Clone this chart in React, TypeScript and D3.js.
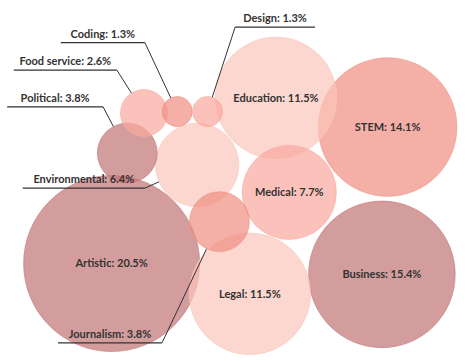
import React from 'react';
import * as d3 from 'd3';

// share of projects per field (%)
const categories = ['Artistic', 'Business', 'STEM', 'Education', 'Legal', 'Medical', 'Environmental', 'Political', 'Journalism', 'Food service', 'Coding', 'Design'];
const shares = [20.5, 15.4, 14.1, 11.5, 11.5, 7.7, 6.4, 3.8, 3.8, 2.6, 1.3, 1.3];
const tones = [0, 0, 1, 3, 3, 2, 3, 0, 1, 2, 1, 2];
// bubble layout, in % of chart width / height
const posX = [23.5, 80.4, 81.6, 58.1, 52.6, 60.9, 41.5, 26.8, 46.2, 30.3, 37.3, 43.7];
const posY = [73.0, 76.0, 35.2, 27.1, 81.4, 53.3, 45.7, 42.4, 61.4, 31.3, 30.9, 30.9];

// callouts for the small bubbles (underline extent + height, same units)
const calloutNames = ['Coding', 'Food service', 'Political', 'Environmental', 'Journalism', 'Design'];
const calloutX1 = [12.8, 2.9, 1.5, 4.8, 12.2, 49.5];
const calloutX2 = [30.5, 24.6, 21.7, 30.5, 34.1, 66.3];
const calloutY = [11.8, 19.4, 29.6, 52.1, 95.0, 7.5];

const palette = ['#c27374', '#ef8f80', '#faa89e', '#fbc6ba'];

const W = 475;
const H = 361;

export default function App() {
  const x = d3.scaleLinear().domain([0, 100]).range([0, W]);
  const y = d3.scaleLinear().domain([0, 100]).range([0, H]);
  const r = d3.scalePow().exponent(0.64).domain([0, d3.max(shares) as number]).range([0, 88]);
  const color = d3.scaleOrdinal<number, string>().domain([0, 1, 2, 3]).range(palette);
  const fmt = (v: number) => `${d3.format('.1f')(v)}%`;

  const bubbles = categories.map((name, i) => ({
    name,
    value: shares[i],
    cx: x(posX[i]),
    cy: y(posY[i]),
    r: r(shares[i]),
    fill: color(tones[i]),
  }));

  const callouts = calloutNames.map((name, i) => {
    const b = bubbles.find(d => d.name === name)!;
    const x1 = x(calloutX1[i]);
    const x2 = x(calloutX2[i]);
    const ly = y(calloutY[i]);
    const ax = b.cx < x1 ? x1 : x2;
    const dx = b.cx - ax;
    const dy = b.cy - ly;
    const len = Math.sqrt(dx * dx + dy * dy);
    return {
      b, x1, x2, ly, ax,
      ex: b.cx - (b.r * dx) / len,
      ey: b.cy - (b.r * dy) / len,
    };
  });

  const font = { fontFamily: 'Lato, "Open Sans", sans-serif', fontSize: 11, fontWeight: 700 };

  return (
    <svg width={W} height={H} style={{ position: 'absolute', left: 0, top: 0 }}>
      <g>
        {bubbles.map(d => (
          <circle key={d.name} cx={d.cx} cy={d.cy} r={d.r}
            fill={d.fill} fillOpacity={0.7} stroke={d.fill} strokeOpacity={0.6} strokeWidth={1} />
        ))}
      </g>
      <g style={font} fill="#333">
        {bubbles.filter(d => !calloutNames.includes(d.name)).map(d => (
          <text key={d.name} x={d.cx} y={d.cy} dy="0.35em" textAnchor="middle">
            {`${d.name}: ${fmt(d.value)}`}
          </text>
        ))}
      </g>
      <g style={font}>
        {callouts.map(c => (
          <g key={c.b.name}>
            <line x1={c.x1} x2={c.x2} y1={c.ly} y2={c.ly} stroke="#333" strokeWidth={1.2} />
            <line x1={c.ax} y1={c.ly} x2={c.ex} y2={c.ey} stroke="#333" strokeWidth={1} />
            <text x={(c.x1 + c.x2) / 2} y={c.ly - 5} textAnchor="middle" fill="#333">
              {`${c.b.name}: ${fmt(c.b.value)}`}
            </text>
          </g>
        ))}
      </g>
    </svg>
  );
}
